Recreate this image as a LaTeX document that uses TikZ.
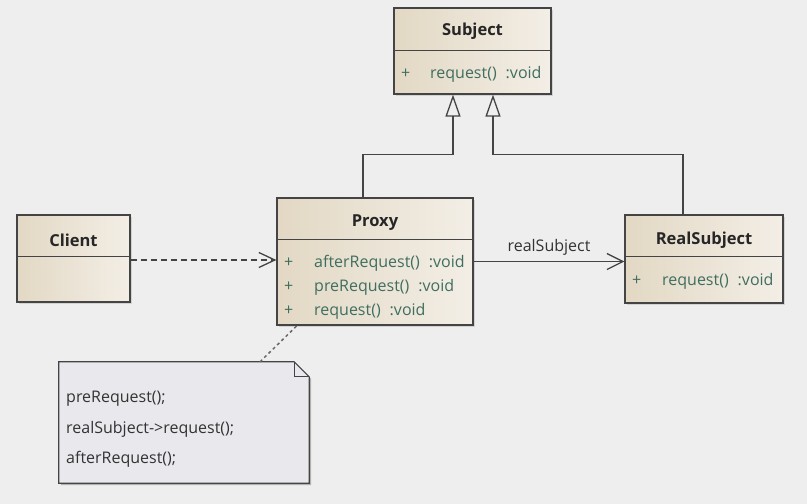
\documentclass[tikz,border=0pt]{standalone}
\usepackage{fontspec}
\setmainfont{Open Sans}
\usetikzlibrary{arrows.meta,shadows}

\definecolor{bg}{HTML}{EEEEEE}
\definecolor{boxL}{HTML}{E2D8C4}
\definecolor{boxR}{HTML}{F3EEE6}
\definecolor{membertext}{HTML}{3F6E60}
\definecolor{edge}{HTML}{444444}
\definecolor{notefill}{HTML}{E9E8EC}

\tikzset{
  classbox/.style={draw=edge, line width=1.2pt, left color=boxL, right color=boxR,
    inner sep=0pt, drop shadow={shadow xshift=2pt, shadow yshift=-2pt, opacity=.25}},
  classname/.style={font=\bfseries\fontsize{16.5}{19}\selectfont, text=black!85},
  member/.style={font=\fontsize{16}{19}\selectfont, text=membertext, anchor=base west, inner sep=0pt},
  notetext/.style={font=\fontsize{16}{19}\selectfont, text=black!80, anchor=base west, inner sep=0pt},
  divider/.style={draw=edge, line width=1.2pt},
  generalization/.style={draw=edge, line width=1.3pt, -{Triangle[length=22pt, width=15pt, fill=bg]}},
  association/.style={draw=edge, line width=1.3pt, -{Straight Barb[length=16pt, width=16pt]}},
  dependency/.style={draw=edge, line width=1.3pt, dash pattern=on 6pt off 4pt, -{Straight Barb[length=16pt, width=15pt]}},
  notelink/.style={draw=edge!80, line width=1.5pt, dash pattern=on 3pt off 3pt}
}

\begin{document}
\begin{tikzpicture}[x=1pt, y=-1pt]
  \useasboundingbox[fill=bg] (0,0) rectangle (807,504);

  % Draw classes
  \node[classbox, minimum width=157pt, minimum height=86pt] (subject) at (472.5,51) {};
  \node[classbox, minimum width=196pt, minimum height=127pt] (proxy) at (375,261.5) {};
  \node[classbox, minimum width=158pt, minimum height=88pt] (realsubject) at (704,259) {};
  \node[classbox, minimum width=113pt, minimum height=87pt] (client) at (73.5,258.5) {};

  \draw[divider] ([yshift=-43pt]subject.north west) -- ([yshift=-43pt]subject.north east);
  \draw[divider] ([yshift=-42pt]proxy.north west) -- ([yshift=-42pt]proxy.north east);
  \draw[divider] ([yshift=-42pt]realsubject.north west) -- ([yshift=-42pt]realsubject.north east);
  \draw[divider] ([yshift=-42pt]client.north west) -- ([yshift=-42pt]client.north east);

  \node[classname] (subjectname) at ([yshift=-24pt]subject.north) {Subject};
  \node[classname] (proxyname) at ([yshift=-25pt]proxy.north) {Proxy};
  \node[classname] (realsubjectname) at ([yshift=-26pt]realsubject.north) {RealSubject};
  \node[classname] (clientname) at ([yshift=-26pt]client.north) {Client};

  % Draw operations
  \node[member] (subjectplus) at (401,78) {+};
  \node[member] (subjectop) at (430,78) {request()\hspace{9pt}:void};
  \foreach \y/\op in {267/afterRequest(), 291/preRequest(), 315/request()} {
    \node[member] at (284,\y) {+};
    \node[member] at (314,\y) {\op\hspace{9pt}:void};
  }
  \node[member] (realplus) at (632,285) {+};
  \node[member] (realop) at (662,285) {request()\hspace{9pt}:void};

  % Draw note
  \node[minimum width=250pt, minimum height=121pt, inner sep=0pt] (note) at (184,422.5) {};
  \fill[black, opacity=.25] ([shift={(2pt,-2pt)}]note.north west) -- ([shift={(-13pt,-2pt)}]note.north east)
    -- ([shift={(2pt,-17pt)}]note.north east) -- ([shift={(2pt,-2pt)}]note.south east)
    -- ([shift={(2pt,-2pt)}]note.south west) -- cycle;
  \draw[edge, fill=notefill, line width=1.2pt] (note.north west) -- ([xshift=-15pt]note.north east)
    -- ([yshift=-15pt]note.north east) -- (note.south east) -- (note.south west) -- cycle;
  \draw[edge, line width=1.2pt] ([xshift=-15pt]note.north east) |- ([yshift=-15pt]note.north east);
  \node[notetext] (line1) at (66,402) {preRequest();};
  \node[notetext] (line2) at (66,433) {realSubject->request();};
  \node[notetext] (line3) at (66,463) {afterRequest();};

  % Draw connectors
  \draw[generalization] ([xshift=-12pt]proxy.north) -- ++(0,-43) -| ([xshift=-19.5pt]subject.south);
  \draw[generalization] ([xshift=-21pt]realsubject.north) -- ++(0,-60) -| ([xshift=20.5pt]subject.south);
  \draw[association] (proxy.east) -- (proxy.east -| realsubject.west)
    node[midway, above=2pt, font=\fontsize{16}{19}\selectfont, text=black!80] (rolename) {realSubject};
  \draw[dependency] (client.east |- 0,260) -- (proxy.west |- 0,260);
  \draw[notelink] ([xshift=76pt]note.north) -- ([xshift=-78pt]proxy.south);
\end{tikzpicture}
\end{document}
